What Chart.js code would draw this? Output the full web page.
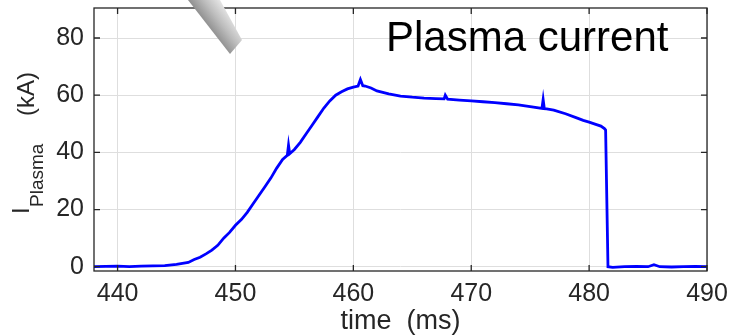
<!DOCTYPE html>
<html>
<head>
<meta charset="utf-8">
<script src="https://cdn.jsdelivr.net/npm/chart.js@4.4.1/dist/chart.umd.min.js"></script>
<style>
html, body { margin: 0; padding: 0; background: #fff; }
#wrap { width: 734px; height: 336px; }
</style>
</head>
<body>
<div id="wrap"><canvas id="ipChart" width="734" height="336"></canvas></div>
<script>
// plasma current trace
var timeMs = [438, 439, 440, 441, 442, 443, 444, 445, 445.5, 446, 446.5, 447, 447.5, 448, 448.5,
    449, 449.5, 450, 450.5, 451, 451.5, 452, 452.5, 453, 453.5, 454, 454.4, 454.5, 454.6, 455,
    455.5, 456, 456.5, 457, 457.5, 458, 458.5, 459, 459.5, 460, 460.4, 460.6, 460.8, 461, 461.5,
    462, 463, 464, 465, 466, 467, 467.7, 467.8, 468, 469, 470, 471, 472, 473, 474, 475, 476,
    476.1, 476.2, 476.4, 477, 478, 479, 479.5, 480, 480.5, 481, 481.3, 481.4, 481.6, 482, 483,
    484, 485, 485.5, 486, 487, 488, 489, 490];
var currentKA = [0, 0.1, 0.2, 0, 0.2, 0.3, 0.4, 0.8, 1.2, 1.5, 2.5, 3.3, 4.5, 5.8, 7.5,
    10, 12, 14.5, 16.5, 19, 22, 25, 28, 31, 34.5, 37.5, 39, 42.5, 39.5, 41,
    43.5, 46.5, 49.5, 52.5, 55.5, 58, 60, 61.2, 62.2, 62.8, 63.2, 65.5, 63.3, 63.2, 62.5,
    61.5, 60.5, 59.7, 59.3, 59, 58.8, 58.7, 60, 58.6, 58.3, 58, 57.7, 57.4, 57, 56.6, 56, 55.4,
    58.5, 55.3, 55.2, 54.8, 53.5, 52, 51.2, 50.6, 49.9, 49.2, 48.3, 47.8, 0, -0.2, 0,
    0.1, 0, 0.7, 0, -0.1, 0, 0.1, 0];
var xTicks = [440, 450, 460, 470, 480, 490];
var yTicks = [0, 20, 40, 60, 80];

var axisColor = '#262626';
var tickFont = { family: 'Liberation Sans', size: 25 };

var points = timeMs.map(function(t, i) { return { x: t, y: currentKA[i] }; });

// frame with inward ticks, y label with subscript, in-plot title
var decorPlugin = {
    id: 'decor',
    afterDraw: function(chart) {
        var ctx = chart.ctx;
        var a = chart.chartArea;
        var xs = chart.scales.x, ys = chart.scales.y;
        ctx.save();
        ctx.strokeStyle = axisColor;
        ctx.lineWidth = 1.3;
        ctx.strokeRect(a.left, a.top, a.right - a.left, a.bottom - a.top);
        ctx.beginPath();
        xTicks.forEach(function(v) {
            var px = xs.getPixelForValue(v);
            ctx.moveTo(px, a.bottom); ctx.lineTo(px, a.bottom - 6);
            ctx.moveTo(px, a.top); ctx.lineTo(px, a.top + 6);
        });
        yTicks.forEach(function(v) {
            var py = ys.getPixelForValue(v);
            ctx.moveTo(a.left, py); ctx.lineTo(a.left + 6, py);
            ctx.moveTo(a.right, py); ctx.lineTo(a.right - 6, py);
        });
        ctx.stroke();

        // title inside the plot
        ctx.fillStyle = '#000';
        ctx.font = '42px "Liberation Sans"';
        ctx.textAlign = 'left';
        ctx.textBaseline = 'alphabetic';
        ctx.fillText('Plasma current', 386, 51);

        // y axis title: I_Plasma (kA)
        ctx.fillStyle = axisColor;
        ctx.rotate(-Math.PI / 2);
        ctx.font = '24px "Liberation Sans"';
        ctx.fillText('I', -214, 29);
        ctx.font = '19px "Liberation Sans"';
        ctx.fillText('Plasma', -207, 43);
        ctx.font = '24px "Liberation Sans"';
        ctx.fillText('(kA)', -116, 34);
        ctx.restore();

        // grey pin graphic over the top axis
        ctx.save();
        var g = ctx.createLinearGradient(207, 27, 231, 9);
        g.addColorStop(0, '#8c8c8c');
        g.addColorStop(0.45, '#bdbdbd');
        g.addColorStop(1, '#f0f0f0');
        ctx.fillStyle = g;
        ctx.beginPath();
        ctx.moveTo(188, 0);
        ctx.lineTo(230, 54);
        ctx.lineTo(242, 40);
        ctx.lineTo(220, 0);
        ctx.closePath();
        ctx.fill();
        ctx.restore();
    }
};

var ctx = document.getElementById('ipChart').getContext('2d');
var ipChart = new Chart(ctx, {
    type: 'line',
    data: {
        datasets: [{
            data: points,
            borderColor: '#0000ff',
            borderWidth: 2.8,
            pointRadius: 0,
            tension: 0,
            fill: false
        }]
    },
    options: {
        responsive: false,
        animation: false,
        layout: { padding: { top: 8, right: 27, left: 0, bottom: 0 } },
        plugins: { legend: { display: false }, tooltip: { enabled: false } },
        scales: {
            x: {
                type: 'linear',
                min: 438,
                max: 490,
                afterBuildTicks: function(scale) {
                    scale.ticks = xTicks.map(function(v) { return { value: v }; });
                },
                afterFit: function(scale) {
                    scale.height = 65;
                    scale.paddingLeft = 0;
                    scale.paddingRight = 0;
                },
                grid: { color: '#dedede', lineWidth: 1, drawTicks: false },
                border: { display: false },
                ticks: { color: axisColor, font: tickFont, padding: 8, maxRotation: 0 },
                title: {
                    display: true,
                    text: 'time  (ms)',
                    color: axisColor,
                    font: { family: 'Liberation Sans', size: 27 },
                    padding: { top: 0, bottom: -2 }
                }
            },
            y: {
                min: -1.5,
                max: 90.5,
                afterBuildTicks: function(scale) {
                    scale.ticks = yTicks.map(function(v) { return { value: v }; });
                },
                afterFit: function(scale) {
                    scale.width = 94;
                    scale.paddingTop = 0;
                    scale.paddingBottom = 0;
                },
                grid: { color: '#dedede', lineWidth: 1, drawTicks: false },
                border: { display: false },
                ticks: { color: axisColor, font: tickFont, padding: 10 }
            }
        }
    },
    plugins: [decorPlugin]
});
</script>
</body>
</html>
